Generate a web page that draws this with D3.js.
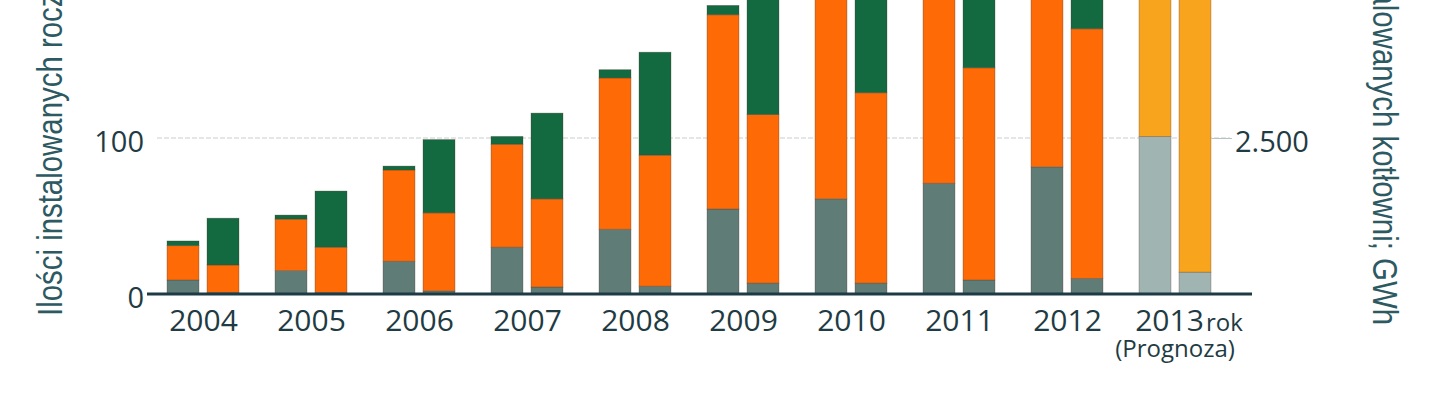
<!DOCTYPE html>
<html><head><meta charset="utf-8">
<script src="https://cdn.jsdelivr.net/npm/d3@7"></script>
<style>body{margin:0;background:#fff}svg{display:block}</style>
</head><body>
<svg id="c" width="1448" height="408"></svg>
<script>
// ---- data ----
const years = ["2004","2005","2006","2007","2008","2009","2010","2011","2012","2013"];
// left bars: number of installations per year (units)
const countGray   = [9, 15, 21, 30, 41.5, 54.5, 61, 71, 81.5, 101];
const countOrange = [22, 33, 58.5, 66, 97, 124.5, 150, 150, 160, 150];
const countGreen  = [3, 2.6, 2.5, 5, 5.3, 6, 7, 8, 9, 0];
// right bars: energy, GWh
const energyGray   = [25, 25, 50, 112, 125, 175, 175, 225, 250, 350];
const energyOrange = [440, 725, 1250, 1412, 2100, 2700, 3050, 3400, 4000, 7000];
const energyGreen  = [750, 900, 1175, 1375, 1650, 2500, 2800, 2900, 3000, 0];
const leftTicks = [0, 100, 200];
const rightTicks = [2500, 5000];
const rightTickLabels = ["2.500", "5.000"];
const forecastYear = "2013";
const leftTitle = "Ilości instalowanych rocznie kotłowni";
const rightTitle = "Moc zainstalowanych kotłowni; GWh";

// ---- styling ----
const C = {gray:"#5f7d76", orange:"#fd6a06", green:"#146a40",
           fGray:"#a0b5b2", fOrange:"#f8a41d", fGreen:"#146a40",
           text:"#1f3b43", title:"#2c5962", axis:"#1d3a45", grid:"#c7cfd1"};
const labelFont = "'Open Sans', sans-serif";

const svg = d3.select("#c");
const x = d3.scalePoint().domain(years).range([203, 1175]);
const sub = d3.scaleBand().domain(["count","energy"]).range([-36, 36]).paddingInner(0.2);
const yL = d3.scaleLinear().domain([0, 200]).range([294, -18]);
const yR = d3.scaleLinear().domain([0, 5000]).range([294, -18]);

// gridlines
svg.append("g").selectAll("line").data(leftTicks.filter(d => d > 0)).join("line")
  .attr("x1", 157).attr("x2", 1230)
  .attr("y1", d => yL(d)).attr("y2", d => yL(d))
  .attr("stroke", C.grid).attr("stroke-width", 1).attr("stroke-dasharray", "5,2");

// build segments
const segs = [];
years.forEach((yr, i) => {
  const f = yr === forecastYear;
  let b = 0;
  [[countGray[i], f ? C.fGray : C.gray], [countOrange[i], f ? C.fOrange : C.orange], [countGreen[i], f ? C.fGreen : C.green]]
    .forEach(([v, col]) => { if (v > 0) segs.push({yr, key:"count", y0:yL(b), y1:yL(b + v), col}); b += v; });
  b = 0;
  [[energyGray[i], f ? C.fGray : C.gray], [energyOrange[i], f ? C.fOrange : C.orange], [energyGreen[i], f ? C.fGreen : C.green]]
    .forEach(([v, col]) => { if (v > 0) segs.push({yr, key:"energy", y0:yR(b), y1:yR(b + v), col}); b += v; });
});

svg.append("g").selectAll("rect").data(segs).join("rect")
  .attr("x", d => x(d.yr) + sub(d.key))
  .attr("width", sub.bandwidth())
  .attr("y", d => d.y1)
  .attr("height", d => d.y0 - d.y1)
  .attr("fill", d => d.col)
  .attr("stroke", "rgba(70,50,40,0.35)").attr("stroke-width", 0.8);

// baseline axis
svg.append("line").attr("x1", 147).attr("x2", 1252).attr("y1", yL(0)).attr("y2", yL(0))
  .attr("stroke", C.axis).attr("stroke-width", 3);

// left axis labels
const gl = svg.append("g").attr("transform", "translate(144,0)")
  .call(d3.axisLeft(yL).tickValues(leftTicks).tickSize(0).tickPadding(0).tickFormat(d3.format("d")));
gl.select(".domain").remove();
gl.selectAll("text").attr("font-family", labelFont).attr("font-size", 29)
  .attr("fill", C.text).attr("dy", "0.45em");

// right axis
const gr = svg.append("g").attr("transform", "translate(1212,0)")
  .call(d3.axisRight(yR).tickValues(rightTicks).tickSize(20).tickPadding(3).tickFormat((d, i) => rightTickLabels[i]));
gr.select(".domain").remove();
gr.selectAll("line").attr("stroke", "#b9c3c5");
gr.selectAll("text").attr("font-family", labelFont).attr("font-size", 29)
  .attr("fill", C.text).attr("dy", "0.45em");

// x axis labels
const gx = svg.append("g").attr("transform", `translate(0,${yL(0)})`)
  .call(d3.axisBottom(x).tickSize(0));
gx.select(".domain").remove();
gx.selectAll("text").attr("font-family", labelFont).attr("font-size", 30)
  .attr("fill", C.text).attr("y", 37).attr("dy", 0)
  .attr("transform", d => d === forecastYear ? "translate(-6,0)" : null);

svg.append("text").attr("x", x(forecastYear) + 31).attr("y", 331)
  .attr("font-family", labelFont).attr("font-size", 24).attr("fill", C.text).text("rok");
svg.append("text").attr("x", x(forecastYear)).attr("y", 357).attr("text-anchor", "middle")
  .attr("font-family", labelFont).attr("font-size", 24).attr("fill", C.text).text("(Prognoza)");

// axis titles
svg.append("text").attr("transform", "translate(62,316) rotate(-90) scale(0.84,1)")
  .attr("font-family", "'Liberation Sans', Arial, sans-serif").attr("font-size", 35)
  .attr("fill", C.title).text(leftTitle);
svg.append("text").attr("transform", "translate(1373,325) rotate(90) scale(0.84,1)")
  .attr("text-anchor", "end")
  .attr("font-family", "'Liberation Sans', Arial, sans-serif").attr("font-size", 35)
  .attr("fill", C.title).text(rightTitle);
</script>
</body></html>
